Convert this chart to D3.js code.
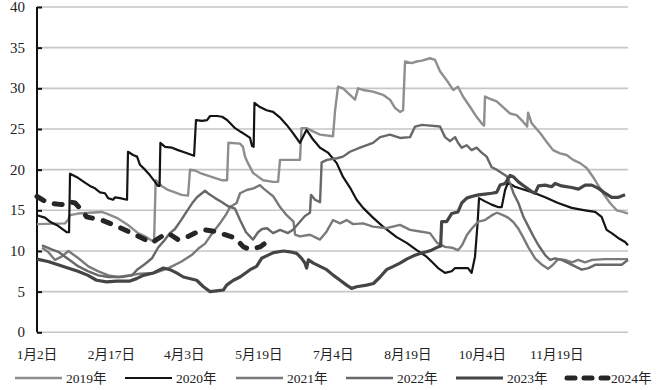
<!DOCTYPE html>
<html><head><meta charset="utf-8">
<script src="https://cdn.jsdelivr.net/npm/d3@7"></script>
<style>body{margin:0;background:#fff}svg{display:block}</style>
</head><body>
<svg id="c" width="671" height="390"></svg>
<script>
const xTickLabels = ["1月2日","2月17日","4月3日","5月19日","7月4日","8月19日","10月4日","11月19日"];
const xTickDays = [0,46,91,137,183,229,275,321];
const yTicks = [0,5,10,15,20,25,30,35,40];
const seriesNames = ["2019年","2020年","2021年","2022年","2023年","2024年"];

const s2019 = [[0,13.3],[17.3,13.4],[19.1,13.8],[20.4,14.4],[25.3,14.6],[39.9,14.8],[43.0,14.6],[50.0,14.0],[56.2,13.2],[62.4,12.2],[66.7,11.8],[69.8,11.4],[72.3,11.1],[73.3,18.7],[77.0,18.0],[80.9,17.5],[85.2,17.2],[89.3,16.9],[93.3,16.8],[94.5,20.0],[97.6,19.9],[101.7,19.5],[107.8,19.1],[114.0,18.7],[117.4,18.7],[118.2,23.3],[125.4,23.2],[127.2,22.8],[128.5,21.6],[130.3,20.8],[133.4,19.6],[139.6,18.7],[145.8,18.5],[148.9,18.5],[150.1,21.2],[154.2,21.2],[162.4,21.2],[163.4,25.1],[166.5,25.1],[170.5,24.7],[174.8,24.3],[182.8,24.1],[184.1,27.3],[185.9,30.2],[189.0,30.0],[193.3,29.2],[196.4,28.6],[198.3,30.0],[201.4,29.8],[207.5,29.6],[213.7,29.2],[218.0,28.6],[221.1,27.6],[224.2,27.1],[226.1,27.3],[227.3,33.3],[231.4,33.1],[234.5,33.3],[237.8,33.4],[242.7,33.7],[245.8,33.5],[248.9,32.1],[253.0,31.0],[257.0,29.8],[260.0,30.2],[263.1,29.0],[267.5,27.7],[271.5,26.5],[274.6,25.7],[276.1,25.4],[276.7,29.0],[279.8,28.7],[283.9,28.4],[287.8,27.7],[292.2,26.9],[296.2,26.7],[300.2,25.9],[302.7,25.3],[303.3,27.0],[305.5,25.7],[310.7,24.5],[314.8,23.4],[318.7,22.4],[323.0,22.0],[327.1,21.8],[331.1,21.2],[335.4,20.8],[339.5,20.2],[343.4,19.1],[346.5,18.1],[349.6,17.1],[353.9,15.9],[358.0,15.0],[361.9,14.8],[365,14.6]];

const s2020 = [[0,14.4],[4.9,14.1],[8.0,13.6],[13.0,13.1],[18.5,12.3],[19.8,12.3],[20.4,19.5],[25.3,19.0],[29.6,18.4],[32.7,18.0],[35.8,17.7],[38.9,17.2],[42.0,17.1],[43.9,16.5],[47.0,16.3],[48.2,16.6],[51.3,16.5],[55.6,16.3],[56.2,22.2],[59.3,21.8],[61.8,21.6],[63.6,20.6],[66.7,20.0],[69.8,19.3],[72.9,18.5],[74.7,18.0],[75.7,18.0],[76.2,23.3],[79.1,22.8],[83.4,22.7],[87.1,22.4],[91.4,22.1],[95.7,21.8],[97.0,21.7],[98.2,26.1],[101.9,26.0],[105.0,26.1],[106.9,26.6],[111.2,26.6],[114.3,26.5],[117.4,26.1],[120.4,25.5],[122.3,25.1],[125.4,24.7],[127.2,24.5],[131.6,23.9],[132.8,22.9],[133.8,22.8],[134.3,28.2],[137.7,27.7],[141.8,27.3],[145.8,27.1],[150.1,26.4],[154.2,25.5],[158.1,24.5],[162.4,23.3],[166.5,24.9],[170.5,23.7],[174.8,22.7],[179.7,22.1],[185.1,20.8],[189.0,19.1],[193.3,17.8],[197.4,16.3],[201.4,15.3],[207.5,14.1],[213.7,13.0],[222.1,11.7],[228.3,11.0],[234.5,10.1],[240.6,9.3],[243.7,8.7],[247.7,7.9],[252.0,7.3],[256.1,7.5],[258.2,7.9],[262.3,7.9],[266.2,7.9],[268.4,7.3],[270.5,9.3],[272.1,13.4],[273.0,16.5],[276.7,16.1],[280.8,15.7],[284.7,15.4],[287.0,15.4],[289.1,17.5],[290.9,18.4],[295.2,17.9],[301.4,17.5],[307.6,17.1],[313.8,16.6],[321.8,15.9],[330.2,15.3],[338.5,15.0],[344.7,14.8],[348.7,14.2],[351.8,12.6],[354.9,12.2],[358.9,11.6],[363.2,11.1],[365,10.7]];

const s2021 = [[3.1,10.4],[6.8,9.9],[11.1,8.9],[15.2,9.3],[19.4,10.0],[25.6,9.1],[31.7,8.1],[37.9,7.5],[44.1,7.0],[50.3,6.8],[56.5,7.0],[63.6,7.2],[72.9,7.3],[81.2,7.9],[89.3,8.7],[95.5,9.5],[99.7,10.3],[103.8,10.9],[106.9,11.8],[113.0,13.4],[117.1,14.6],[119.2,15.4],[123.3,15.9],[125.4,17.1],[129.5,17.5],[133.7,17.7],[137.7,18.1],[139.8,17.7],[146.0,16.7],[150.1,15.4],[154.2,14.4],[158.4,13.6],[159.4,12.0],[162.4,11.8],[168.6,12.0],[174.8,11.4],[178.9,12.4],[182.8,13.8],[187.2,13.4],[191.2,13.8],[195.2,13.3],[201.4,13.4],[207.5,13.0],[215.9,12.8],[224.2,13.2],[230.4,12.6],[236.6,12.4],[242.7,12.2],[247.1,11.0],[252.0,10.5],[256.3,10.4],[260.0,10.1],[262.5,10.7],[265.6,12.0],[268.7,12.8],[272.4,13.6],[276.7,13.8],[281.0,14.4],[284.1,14.7],[287.8,14.4],[290.9,14.1],[294.0,13.6],[297.1,12.8],[300.2,11.7],[303.3,10.5],[307.6,9.1],[311.9,8.3],[315.6,7.8],[318.7,8.3],[321.8,9.0],[326.1,8.9],[330.4,8.6],[334.2,8.9],[338.5,8.6],[342.8,8.9],[350.8,9.0],[358.9,9.0],[365,9.0]];

const s2022 = [[3.1,10.7],[9.0,10.2],[13.2,9.9],[17.3,9.3],[21.4,8.7],[25.6,8.1],[31.7,7.5],[37.9,7.0],[44.1,6.8],[52.3,6.8],[58.7,7.0],[61.8,7.7],[66.7,8.4],[71.0,9.1],[74.7,10.4],[79.1,11.4],[82.1,12.2],[85.2,12.7],[89.0,13.8],[92.6,14.9],[96.3,16.0],[98.8,16.6],[103.8,17.4],[106.2,17.0],[110.0,16.5],[114.3,16.0],[118.0,15.5],[122.3,15.2],[125.4,13.8],[129.1,12.3],[133.4,11.4],[136.5,12.3],[139.0,12.7],[142.1,12.8],[145.8,12.2],[150.1,12.6],[155.0,12.2],[158.1,12.6],[162.4,13.6],[165.5,14.3],[168.6,14.7],[169.2,16.9],[171.7,16.3],[174.8,16.0],[175.8,20.9],[179.1,21.2],[185.3,21.4],[189.0,21.6],[193.3,22.2],[199.5,22.7],[207.5,23.3],[211.9,24.0],[218.0,24.3],[224.2,23.9],[230.4,24.0],[233.5,25.3],[237.8,25.5],[248.9,25.3],[252.0,24.0],[255.1,23.5],[258.2,24.0],[260.0,23.3],[262.3,22.7],[265.4,23.0],[268.4,22.4],[271.5,22.7],[274.6,22.1],[277.7,21.6],[280.8,20.3],[283.9,20.0],[287.0,19.6],[290.1,19.2],[292.2,18.3],[294.3,17.1],[297.3,15.9],[300.4,14.2],[303.5,13.0],[306.6,11.8],[309.7,10.7],[313.8,9.5],[316.9,8.9],[320.0,9.1],[324.0,8.9],[328.2,8.5],[332.3,8.1],[336.4,7.7],[340.6,7.9],[344.7,8.3],[350.8,8.3],[357.0,8.3],[361.1,8.3],[365,8.9]];

const s2023 = [[0,9.0],[6.8,8.7],[13.0,8.3],[19.1,7.9],[25.3,7.5],[31.5,7.0],[36.8,6.4],[43.0,6.2],[49.2,6.3],[57.4,6.3],[61.5,6.6],[65.7,7.0],[71.9,7.3],[78.1,7.9],[82.1,7.7],[86.2,7.3],[90.4,6.8],[98.6,6.4],[102.8,5.6],[106.9,5.0],[110.9,5.1],[115.1,5.2],[117.1,5.8],[121.3,6.4],[125.4,6.8],[131.6,7.7],[135.6,8.1],[138.7,9.1],[141.8,9.4],[146.0,9.8],[152.2,10.0],[156.3,9.9],[160.4,9.7],[163.4,9.1],[165.5,8.5],[166.5,7.9],[167.6,8.9],[170.7,8.5],[174.8,8.1],[178.9,7.7],[183.1,7.0],[187.2,6.4],[191.2,5.8],[194.3,5.4],[197.4,5.6],[203.6,5.8],[207.8,6.0],[211.9,6.8],[215.9,7.7],[220.1,8.1],[224.2,8.5],[228.3,9.0],[232.5,9.4],[236.6,9.7],[240.6,9.9],[243.7,10.1],[247.7,10.5],[249.3,10.6],[249.9,13.6],[253.0,13.6],[256.1,14.6],[260.0,14.8],[262.3,15.9],[265.4,16.5],[268.4,16.7],[272.6,16.9],[276.7,17.0],[280.8,17.1],[283.9,17.2],[286.0,18.1],[289.1,18.3],[292.2,19.3],[294.3,19.1],[297.3,18.5],[301.4,17.9],[305.5,17.3],[307.6,17.1],[309.7,18.0],[313.8,18.1],[317.8,17.9],[320.0,18.3],[324.0,18.0],[330.2,17.8],[334.4,17.6],[338.5,18.1],[342.6,18.1],[346.8,17.7],[350.8,17.1],[354.9,16.6],[359.1,16.6],[363.2,16.9]];

const s2024 = [[0,16.7],[6.8,15.9],[15.4,15.7],[19.1,16.1],[23.5,15.9],[27.8,15.0],[30.6,14.2],[39.9,13.8],[50.0,13.0],[58.4,12.2],[66.7,11.4],[70.8,11.0],[77.0,11.8],[80.9,12.2],[87.1,11.4],[91.4,11.6],[97.6,12.2],[103.8,12.6],[110.0,12.4],[116.1,12.0],[122.3,11.6],[127.5,10.5],[131.6,10.2],[137.7,10.5],[143.9,11.4]];

const seriesData = [s2019, s2020, s2021, s2022, s2023, s2024];
const styles = [
  {color:"#8e8e8e", w:2.4, dash:null},
  {color:"#141414", w:2.2, dash:null},
  {color:"#7a7a7a", w:2.4, dash:null},
  {color:"#686868", w:2.4, dash:null},
  {color:"#454545", w:3.2, dash:null},
  {color:"#262626", w:5, dash:"8,11"}
];

const svg = d3.select("#c");
const x = d3.scaleLinear().domain([0,365]).range([37,628]);
const y = d3.scaleLinear().domain([0,40]).range([332.3,7]);

// gridlines
svg.append("g").selectAll("line").data(yTicks).join("line")
  .attr("x1", x(0)).attr("x2", x(365))
  .attr("y1", d=>y(d)).attr("y2", d=>y(d))
  .attr("stroke","#c6c6c6").attr("stroke-width",1.6);

// y axis
const yAxis = d3.axisRight(y).tickValues(yTicks).tickSize(5).tickFormat("");
const ga = svg.append("g").attr("transform",`translate(${x(0)},0)`).call(yAxis);
ga.select(".domain").attr("stroke","#111").attr("stroke-width",2).attr("d",`M0,${y(40)}H0V${y(0)}`);
ga.selectAll(".tick line").attr("stroke","#111").attr("stroke-width",2);

svg.append("g").selectAll("text").data(yTicks).join("text")
  .attr("x",25).attr("y",d=>y(d)+5)
  .attr("text-anchor","end")
  .attr("font-family","'Liberation Serif', serif").attr("font-size",15).attr("fill","#222")
  .text(d=>d);

// x labels
svg.append("g").selectAll("text").data(xTickDays).join("text")
  .attr("x",d=>x(d)).attr("y",359)
  .attr("text-anchor","middle")
  .attr("font-family","'Liberation Serif','Noto Sans CJK SC',serif").attr("font-size",13.5).attr("fill","#222")
  .text((d,i)=>xTickLabels[i]);

// lines
const line = d3.line().x(d=>x(d[0])).y(d=>y(d[1]));
seriesData.forEach((data,i)=>{
  const st = styles[i];
  const p = svg.append("path").datum(data).attr("d",line)
    .attr("fill","none").attr("stroke",st.color).attr("stroke-width",st.w)
    .attr("stroke-linejoin","round");
  if (st.dash) p.attr("stroke-dasharray",st.dash).attr("stroke-linecap","round");
});

// legend
const legX = [15,125,236,346,456,567];
const lg = svg.append("g");
seriesNames.forEach((n,i)=>{
  const st = styles[i];
  const l = lg.append("line").attr("x1",legX[i]).attr("x2",legX[i]+(i===5?41:47))
    .attr("y1",378).attr("y2",378)
    .attr("stroke",st.color).attr("stroke-width",i===5?5:st.w);
  if (st.dash) l.attr("stroke-dasharray","8,9").attr("stroke-linecap","round");
  lg.append("text").attr("x",legX[i]+(i===5?44:51)).attr("y",383)
    .attr("font-family","'Liberation Serif','Noto Sans CJK SC',serif").attr("font-size",13.5).attr("fill","#222")
    .text(n);
});
</script>
</body></html>
